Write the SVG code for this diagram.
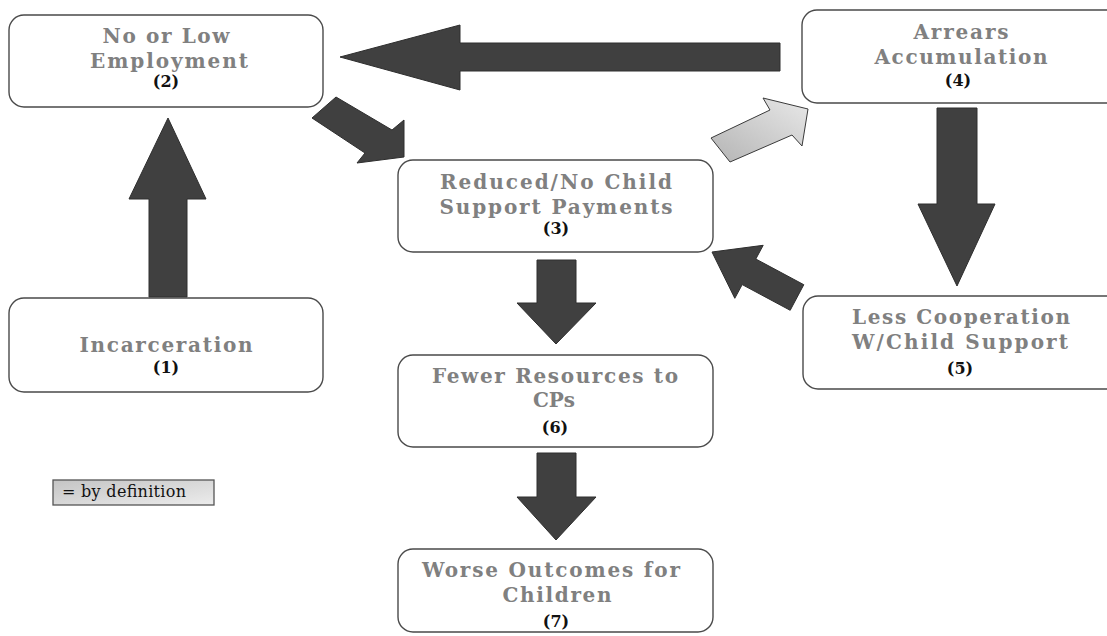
<svg xmlns="http://www.w3.org/2000/svg" width="1107" height="636" viewBox="0 0 1107 636">
<defs>
<style>
.box{fill:#ffffff;stroke:#4a4a4a;stroke-width:1.4}
.t{font-family:"DejaVu Serif","Liberation Serif",serif;font-weight:bold;font-size:20px;fill:#808080;text-anchor:middle}
.n{font-family:"DejaVu Serif","Liberation Serif",serif;font-weight:bold;font-size:16px;fill:#111111;text-anchor:middle}
.arr{fill:#404040;stroke:#2e2e2e;stroke-width:1}
.lg{font-family:"DejaVu Serif","Liberation Serif",serif;font-size:16px;fill:#111111}
</style>
<linearGradient id="gg" x1="0" y1="1" x2="1" y2="0">
<stop offset="0" stop-color="#b4b4b4"/>
<stop offset="1" stop-color="#e8e8e8"/>
</linearGradient>
<linearGradient id="lgg" x1="0" y1="0" x2="1" y2="1">
<stop offset="0" stop-color="#c4c4c4"/>
<stop offset="1" stop-color="#ececec"/>
</linearGradient>
</defs>
<rect width="1107" height="636" fill="#ffffff"/>

<g id="connectors">
<polygon class="arr" points="149,297 149,199 129,199 168,118 206,199 187,199 187,297"/>
<polygon class="arr" points="780,43 460,43 460,25 340,57 460,90 460,71 780,71"/>
<polygon class="arr" points="336,97 392,130 404,120 404,157 357,163 365,153 312,118"/>
<polygon points="711,138 770,110 763,98 808,109 802,146 792,135 730,162" fill="url(#gg)" stroke="#3a3a3a" stroke-width="1"/>
<polygon class="arr" points="937,108 977,108 977,204 995,204 957,286 918,204 937,204"/>
<polygon class="arr" points="803.8,284.7 755.8,259 763.2,245.3 712,252 734.8,298.3 742.2,284.6 790.2,310.3"/>
<polygon class="arr" points="537,260 576,260 576,303 596,303 556,344 517,303 537,303"/>
<polygon class="arr" points="537,453 576,453 576,497 596,497 556,540 517,497 537,497"/>
</g>

<g id="node1">
<rect class="box" x="9" y="298" width="314" height="94" rx="15"/>
<text class="t" x="166" y="352" textLength="173" lengthAdjust="spacing">Incarceration</text>
<text class="n" x="166" y="373">(1)</text>
</g>

<g id="node2">
<rect class="box" x="9" y="15" width="314" height="92" rx="15"/>
<text class="t" x="166" y="43" textLength="127" lengthAdjust="spacing">No or Low</text>
<text class="t" x="169" y="68" textLength="158" lengthAdjust="spacing">Employment</text>
<text class="n" x="166" y="87">(2)</text>
</g>

<g id="node3">
<rect class="box" x="398" y="160" width="315" height="92" rx="15"/>
<text class="t" x="556" y="189" textLength="232" lengthAdjust="spacing">Reduced/No Child</text>
<text class="t" x="556" y="214" textLength="233" lengthAdjust="spacing">Support Payments</text>
<text class="n" x="556" y="234">(3)</text>
</g>

<g id="node4">
<rect class="box" x="802" y="10" width="320" height="93" rx="15"/>
<text class="t" x="961" y="39" textLength="95" lengthAdjust="spacing">Arrears</text>
<text class="t" x="961" y="64" textLength="173" lengthAdjust="spacing">Accumulation</text>
<text class="n" x="958" y="86">(4)</text>
</g>

<g id="node5">
<rect class="box" x="803" y="296" width="320" height="93" rx="15"/>
<text class="t" x="961" y="324" textLength="218" lengthAdjust="spacing">Less Cooperation</text>
<text class="t" x="960" y="349" textLength="216" lengthAdjust="spacing">W/Child Support</text>
<text class="n" x="960" y="374">(5)</text>
</g>

<g id="node6">
<rect class="box" x="398" y="355" width="315" height="92" rx="15"/>
<text class="t" x="555" y="383" textLength="246" lengthAdjust="spacing">Fewer Resources to</text>
<text class="t" x="554" y="407">CPs</text>
<text class="n" x="555" y="433">(6)</text>
</g>

<g id="node7">
<rect class="box" x="398" y="549" width="315" height="83" rx="15"/>
<text class="t" x="551" y="577" textLength="258" lengthAdjust="spacing">Worse Outcomes for</text>
<text class="t" x="557" y="602" textLength="109" lengthAdjust="spacing">Children</text>
<text class="n" x="556" y="627">(7)</text>
</g>

<g id="legend">
<rect x="53" y="480" width="161" height="25" fill="url(#lgg)" stroke="#555555" stroke-width="1.3"/>
<text class="lg" x="62" y="497" textLength="124" lengthAdjust="spacing">= by definition</text>
</g>
</svg>
